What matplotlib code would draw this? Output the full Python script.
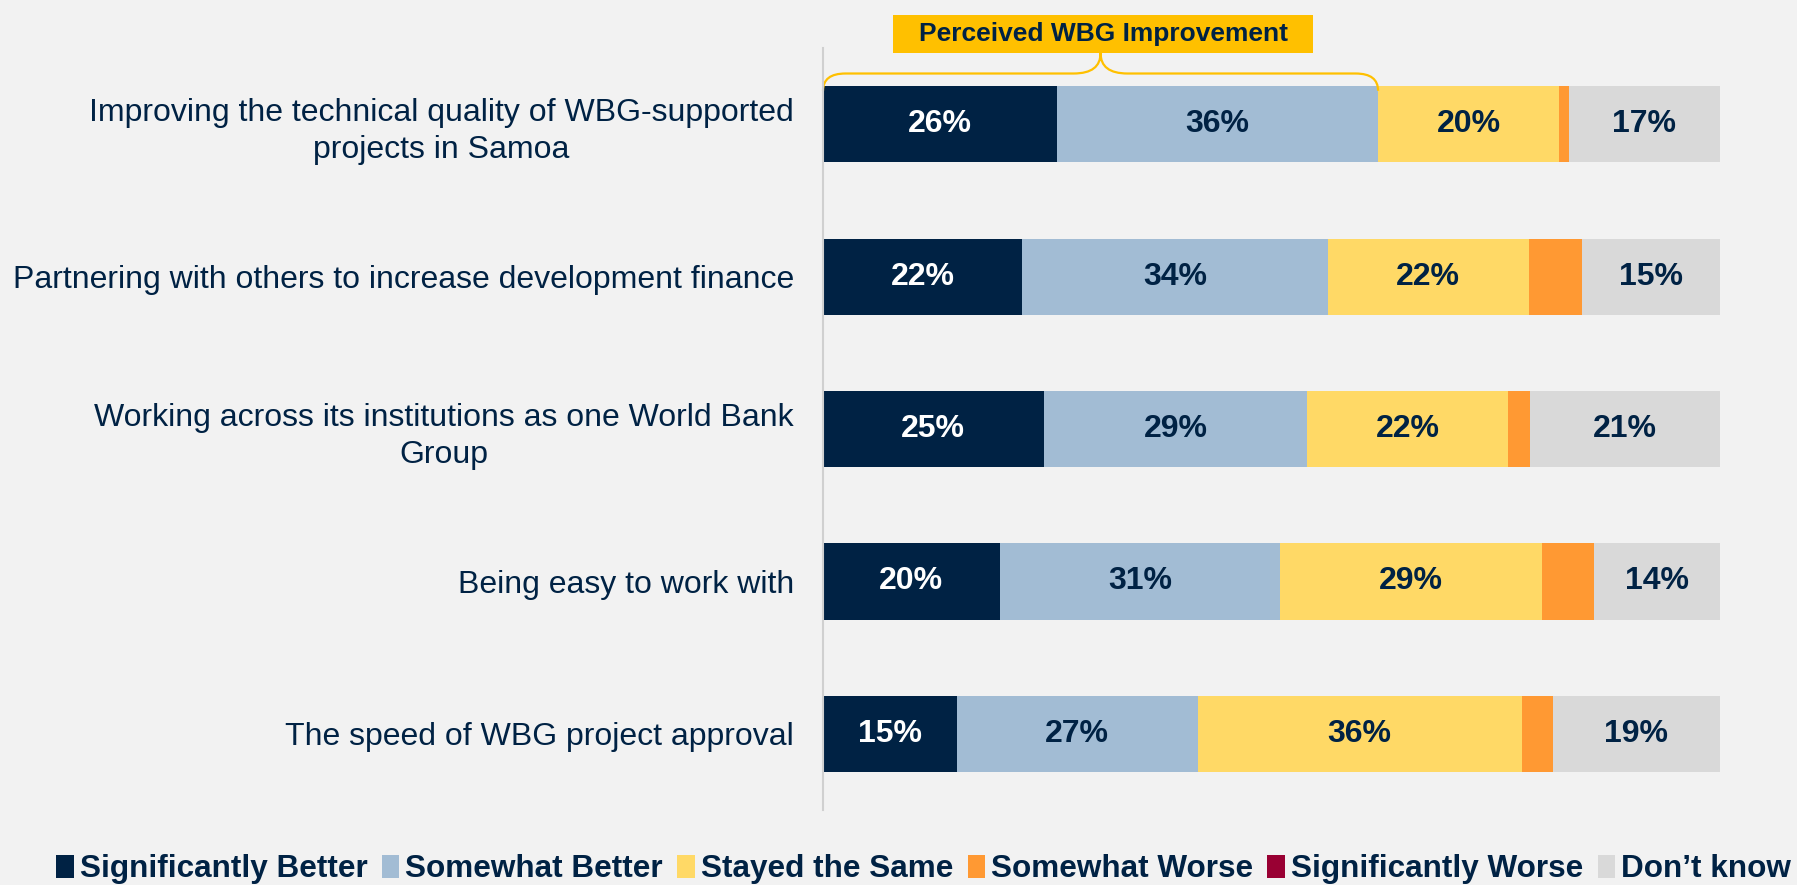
import matplotlib.pyplot as plt
from matplotlib.patches import Patch, PathPatch, Rectangle
from matplotlib.path import Path

plt.rcParams["font.family"] = ["Liberation Sans", "DejaVu Sans"]

categories = [
    "Improving the technical quality of WBG-supported\nprojects in Samoa",
    "Partnering with others to increase development finance",
    "Working across its institutions as one World Bank\nGroup",
    "Being easy to work with",
    "The speed of WBG project approval",
]
series = ["Significantly Better", "Somewhat Better", "Stayed the Same",
          "Somewhat Worse", "Significantly Worse", "Don\u2019t know"]

sig_better = [26.1, 22.2, 24.6, 19.7, 14.9]
some_better = [35.8, 34.1, 29.4, 31.3, 26.9]
same = [20.2, 22.4, 22.4, 29.2, 36.1]
some_worse = [1.1, 5.9, 2.4, 5.8, 3.5]
sig_worse = [0, 0, 0, 0, 0]
dont_know = [16.8, 15.4, 21.2, 14.0, 18.6]

colors = ["#002244", "#A2BCD4", "#FFD966", "#FF9933", "#990033", "#D9D9D9"]
text_colors = ["white", "#002244", "#002244", None, None, "#002244"]
navy = "#002244"
bg = "#F2F2F2"

values = [sig_better, some_better, same, some_worse, sig_worse, dont_know]

fig = plt.figure(figsize=(17.97, 8.85), dpi=100, facecolor=bg)
ax = fig.add_axes([0.458, 0.0847, 0.499, 0.861])
ax.set_facecolor(bg)

y = list(range(len(categories)))
left = [0.0] * len(categories)
for vals, col, tcol in zip(values, colors, text_colors):
    ax.barh(y, vals, left=left, height=0.5, color=col, edgecolor="none")
    if tcol is not None:
        for i, v in enumerate(vals):
            if v >= 8:
                ax.text(left[i] + v / 2, i, f"{round(v)}%", ha="center", va="center",
                        color=tcol, fontsize=23, fontweight="bold")
    left = [l + v for l, v in zip(left, vals)]

ax.set_xlim(0, 100)
ax.set_ylim(4.5, -0.5)
ax.set_xticks([])
ax.set_yticks(y)
ax.set_yticklabels(categories, fontsize=23, color=navy)
for lab in ax.get_yticklabels():
    lab.set_multialignment("center")
    lab.set_linespacing(1.32)
ax.tick_params(axis="y", length=0, pad=21)
for s in ["top", "right", "bottom"]:
    ax.spines[s].set_visible(False)
ax.spines["left"].set_color("#D0D0D0")
ax.spines["left"].set_linewidth(1.5)

# brace over the "better" segments of the first bar
x1 = sig_better[0] + some_better[0]
xm = x1 / 2
yl, ye, yp = -0.333, -0.22, -0.467
verts = [(0, ye), (0, yl), (2.5, yl), (xm - 3, yl), (xm, yl), (xm, yp),
         (xm, yl), (xm + 3, yl), (x1 - 2.5, yl), (x1, yl), (x1, ye)]
codes = [Path.MOVETO, Path.CURVE3, Path.CURVE3, Path.LINETO, Path.CURVE3, Path.CURVE3,
         Path.CURVE3, Path.CURVE3, Path.LINETO, Path.CURVE3, Path.CURVE3]
ax.add_patch(PathPatch(Path(verts, codes), fill=False, edgecolor="#FFC000", lw=1.6, clip_on=False))
ax.add_patch(Rectangle((xm - 23.2, yp), 46.9, -0.247, facecolor="#FFC000", edgecolor="none",
                       clip_on=False))
ax.text(xm + 0.3, yp - 0.125, "Perceived WBG Improvement", ha="center", va="center",
        fontsize=19, fontweight="bold", color=navy, clip_on=False)

handles = [Patch(facecolor=c, edgecolor="none") for c in colors]
leg = fig.legend(handles, series, loc="center", bbox_to_anchor=(0.514, 0.018), ncol=6,
                 frameon=False, handlelength=0.55, handleheight=0.75, handletextpad=0.2,
                 columnspacing=0.45, prop={"size": 22.7, "weight": "bold"})
for t in leg.get_texts():
    t.set_color(navy)

fig.savefig("out.png", dpi=100, facecolor=bg)
